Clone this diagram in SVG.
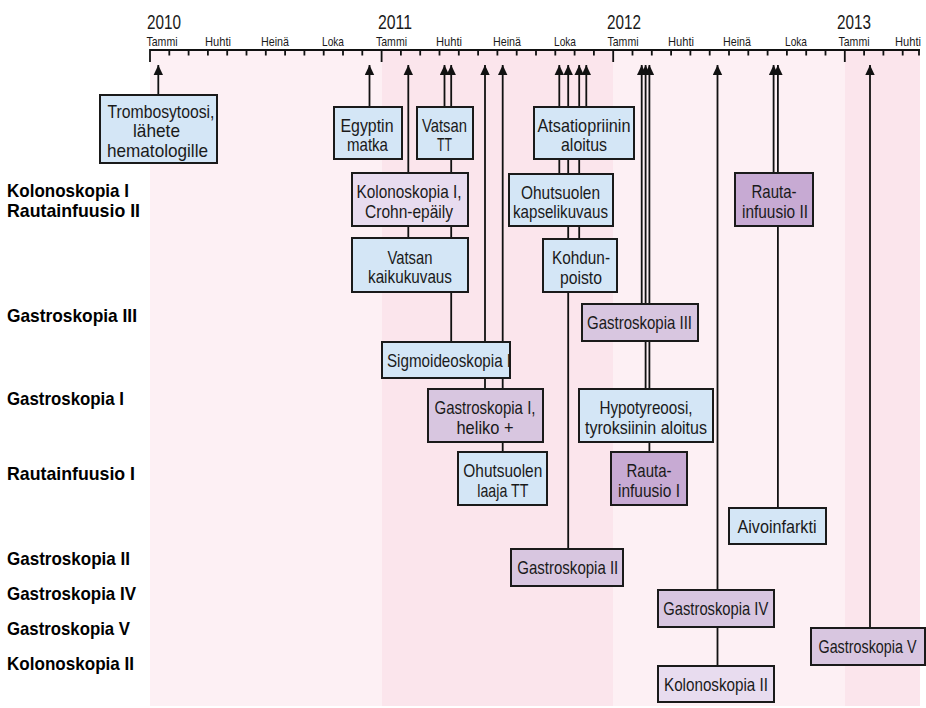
<svg xmlns="http://www.w3.org/2000/svg" width="926" height="708" viewBox="0 0 926 708">
<style>
.t{font-family:"Liberation Sans",Arial,sans-serif;fill:#1a1a1a}
.bx{font-size:18.5px;text-anchor:middle}
.mo{font-size:13.5px;text-anchor:middle}
.yr{font-size:21px}
.lb{font-size:19px;font-weight:bold;fill:#000}
.b{fill:#d4e6f6;stroke:#1a1a1a;stroke-width:2}
.l1{fill:#e8dcef;stroke:#1a1a1a;stroke-width:2}
.l2{fill:#d8c6e0;stroke:#1a1a1a;stroke-width:2}
.l3{fill:#c7aad3;stroke:#1a1a1a;stroke-width:2}
.c{stroke:#111;stroke-width:1.8;fill:none}
</style>
<defs>
<marker id="ah" viewBox="0 0 10 10" refX="10" refY="5" markerUnits="userSpaceOnUse" markerWidth="10" markerHeight="10" orient="auto">
<path d="M0,0.3 L10,5 L0,9.7 z" fill="#111"/>
</marker>
</defs>
<rect width="926" height="708" fill="#fff"/>
<g id="bands">
<rect x="150" y="50" width="232" height="656" fill="#fdf0f4"/>
<rect x="382" y="50" width="231" height="656" fill="#fbe5ec"/>
<rect x="613" y="50" width="232" height="656" fill="#fdf0f4"/>
<rect x="845" y="50" width="75" height="656" fill="#fbe5ec"/>
</g>
<g id="axis">
<path d="M150,50 H920" stroke="#111" stroke-width="2"/>
<path stroke="#111" stroke-width="1.8" d="M150,49 V62 M381.6,49 V62 M613.2,49 V62 M844.8,49 V62 M169.3,50 V55.5 M188.6,50 V55.5 M207.9,50 V55.5 M227.2,50 V55.5 M246.5,50 V55.5 M265.8,50 V55.5 M285.1,50 V55.5 M304.4,50 V55.5 M323.7,50 V55.5 M343,50 V55.5 M362.3,50 V55.5 M400.9,50 V55.5 M420.2,50 V55.5 M439.5,50 V55.5 M458.8,50 V55.5 M478.1,50 V55.5 M497.4,50 V55.5 M516.7,50 V55.5 M536,50 V55.5 M555.3,50 V55.5 M574.6,50 V55.5 M593.9,50 V55.5 M632.5,50 V55.5 M651.8,50 V55.5 M671.1,50 V55.5 M690.4,50 V55.5 M709.7,50 V55.5 M729,50 V55.5 M748.3,50 V55.5 M767.6,50 V55.5 M786.9,50 V55.5 M806.2,50 V55.5 M825.5,50 V55.5 M864.1,50 V55.5 M883.4,50 V55.5 M902.7,50 V55.5 M919,50 V55.5"/>
<text class="t yr" x="147" y="28.5" textLength="34" lengthAdjust="spacingAndGlyphs">2010</text>
<text class="t yr" x="378" y="28.5" textLength="34" lengthAdjust="spacingAndGlyphs">2011</text>
<text class="t yr" x="607" y="28.5" textLength="34" lengthAdjust="spacingAndGlyphs">2012</text>
<text class="t yr" x="837" y="28.5" textLength="34" lengthAdjust="spacingAndGlyphs">2013</text>
<text class="t mo" x="162" y="46" textLength="31" lengthAdjust="spacingAndGlyphs">Tammi</text>
<text class="t mo" x="218" y="46" textLength="26" lengthAdjust="spacingAndGlyphs">Huhti</text>
<text class="t mo" x="275" y="46" textLength="28" lengthAdjust="spacingAndGlyphs">Heinä</text>
<text class="t mo" x="333" y="46" textLength="22" lengthAdjust="spacingAndGlyphs">Loka</text>
<text class="t mo" x="391.5" y="46" textLength="31" lengthAdjust="spacingAndGlyphs">Tammi</text>
<text class="t mo" x="449" y="46" textLength="26" lengthAdjust="spacingAndGlyphs">Huhti</text>
<text class="t mo" x="507" y="46" textLength="28" lengthAdjust="spacingAndGlyphs">Heinä</text>
<text class="t mo" x="565" y="46" textLength="22" lengthAdjust="spacingAndGlyphs">Loka</text>
<text class="t mo" x="623" y="46" textLength="31" lengthAdjust="spacingAndGlyphs">Tammi</text>
<text class="t mo" x="681" y="46" textLength="26" lengthAdjust="spacingAndGlyphs">Huhti</text>
<text class="t mo" x="737" y="46" textLength="28" lengthAdjust="spacingAndGlyphs">Heinä</text>
<text class="t mo" x="796" y="46" textLength="22" lengthAdjust="spacingAndGlyphs">Loka</text>
<text class="t mo" x="854" y="46" textLength="31" lengthAdjust="spacingAndGlyphs">Tammi</text>
<text class="t mo" x="908" y="46" textLength="26" lengthAdjust="spacingAndGlyphs">Huhti</text>
</g>
<g id="row-labels">
<text class="t lb" x="7" y="197" textLength="122" lengthAdjust="spacingAndGlyphs">Kolonoskopia I</text>
<text class="t lb" x="7" y="217" textLength="133" lengthAdjust="spacingAndGlyphs">Rautainfuusio II</text>
<text class="t lb" x="7" y="322" textLength="130" lengthAdjust="spacingAndGlyphs">Gastroskopia III</text>
<text class="t lb" x="7" y="405" textLength="117" lengthAdjust="spacingAndGlyphs">Gastroskopia I</text>
<text class="t lb" x="7" y="480" textLength="128" lengthAdjust="spacingAndGlyphs">Rautainfuusio I</text>
<text class="t lb" x="7" y="565" textLength="123" lengthAdjust="spacingAndGlyphs">Gastroskopia II</text>
<text class="t lb" x="7" y="600" textLength="129" lengthAdjust="spacingAndGlyphs">Gastroskopia IV</text>
<text class="t lb" x="7" y="635" textLength="123" lengthAdjust="spacingAndGlyphs">Gastroskopia V</text>
<text class="t lb" x="7" y="670" textLength="127" lengthAdjust="spacingAndGlyphs">Kolonoskopia II</text>
</g>
<g id="connectors" class="c" marker-end="url(#ah)">
<path d="M158.3,95 V65"/>
<path d="M369.5,107 V65"/>
<path d="M408.3,238 V65"/>
<path d="M444.5,107 V65"/>
<path d="M451.2,342 V65"/>
<path d="M485,389 V65"/>
<path d="M502.7,452 V65"/>
<path d="M559.3,174 V65"/>
<path d="M568.2,549 V65"/>
<path d="M579.2,239 V65"/>
<path d="M586.3,107 V65"/>
<path d="M641.7,304 V65"/>
<path d="M645.6,389 V65"/>
<path d="M649.4,452 V65"/>
<path d="M717.5,666 V65"/>
<path d="M773.6,173 V65"/>
<path d="M777.9,508 V65"/>
<path d="M870,628 V65"/>
</g>
<g id="n-trombosytoosi"><rect class="b" x="100" y="95" width="117" height="68"/><text class="t bx" x="161" y="117.5" textLength="107" lengthAdjust="spacingAndGlyphs">Trombosytoosi,</text><text class="t bx" x="156.5" y="137" textLength="47" lengthAdjust="spacingAndGlyphs">lähete</text><text class="t bx" x="157.5" y="156.5" textLength="101" lengthAdjust="spacingAndGlyphs">hematologille</text></g>
<g id="n-egyptin"><rect class="b" x="334" y="107" width="68" height="52"/><text class="t bx" x="367" y="132" textLength="53" lengthAdjust="spacingAndGlyphs">Egyptin</text><text class="t bx" x="367.5" y="151" textLength="41" lengthAdjust="spacingAndGlyphs">matka</text></g>
<g id="n-vatsan-tt"><rect class="b" x="417" y="107" width="56" height="52"/><text class="t bx" x="444.5" y="132" textLength="45" lengthAdjust="spacingAndGlyphs">Vatsan</text><text class="t bx" x="444.5" y="151" textLength="15" lengthAdjust="spacingAndGlyphs">TT</text></g>
<g id="n-atsatiopriini"><rect class="b" x="534" y="107" width="100" height="52"/><text class="t bx" x="584" y="132" textLength="93" lengthAdjust="spacingAndGlyphs">Atsatiopriinin</text><text class="t bx" x="584" y="151" textLength="46" lengthAdjust="spacingAndGlyphs">aloitus</text></g>
<g id="n-kolonoskopia1"><rect class="l1" x="352" y="173" width="116" height="53"/><text class="t bx" x="409" y="198" textLength="105" lengthAdjust="spacingAndGlyphs">Kolonoskopia I,</text><text class="t bx" x="409" y="217.5" textLength="88" lengthAdjust="spacingAndGlyphs">Crohn-epäily</text></g>
<g id="n-kapselikuvaus"><rect class="b" x="509" y="174" width="104" height="52"/><text class="t bx" x="560.5" y="199" textLength="79" lengthAdjust="spacingAndGlyphs">Ohutsuolen</text><text class="t bx" x="560.5" y="218" textLength="95" lengthAdjust="spacingAndGlyphs">kapselikuvaus</text></g>
<g id="n-rautainfuusio2"><rect class="l3" x="735" y="173" width="78" height="53"/><text class="t bx" x="774" y="198" textLength="45" lengthAdjust="spacingAndGlyphs">Rauta-</text><text class="t bx" x="775" y="217.5" textLength="66" lengthAdjust="spacingAndGlyphs">infuusio II</text></g>
<g id="n-kaikukuvaus"><rect class="b" x="352" y="238" width="116" height="54"/><text class="t bx" x="410" y="263.5" textLength="45" lengthAdjust="spacingAndGlyphs">Vatsan</text><text class="t bx" x="410" y="283" textLength="84" lengthAdjust="spacingAndGlyphs">kaikukuvaus</text></g>
<g id="n-kohdunpoisto"><rect class="b" x="543" y="239" width="74" height="53"/><text class="t bx" x="581" y="264" textLength="58" lengthAdjust="spacingAndGlyphs">Kohdun-</text><text class="t bx" x="581" y="283.5" textLength="42" lengthAdjust="spacingAndGlyphs">poisto</text></g>
<g id="n-gastroskopia3"><rect class="l2" x="582" y="304" width="116" height="37"/><text class="t bx" x="639.5" y="328.5" textLength="105" lengthAdjust="spacingAndGlyphs">Gastroskopia III</text></g>
<g id="n-sigmoideoskopia"><rect class="b" x="382" y="342" width="128" height="36"/><text class="t bx" x="387" y="366.5" style="text-anchor:start" textLength="124" lengthAdjust="spacingAndGlyphs">Sigmoideoskopia I</text></g>
<g id="n-gastroskopia1"><rect class="l2" x="428" y="389" width="115" height="53"/><text class="t bx" x="485" y="414" textLength="101" lengthAdjust="spacingAndGlyphs">Gastroskopia I,</text><text class="t bx" x="485" y="433.5" textLength="57" lengthAdjust="spacingAndGlyphs">heliko +</text></g>
<g id="n-hypotyreoosi"><rect class="b" x="579" y="389" width="134" height="53"/><text class="t bx" x="646" y="414" textLength="93" lengthAdjust="spacingAndGlyphs">Hypotyreoosi,</text><text class="t bx" x="646" y="433.5" textLength="122" lengthAdjust="spacingAndGlyphs">tyroksiinin aloitus</text></g>
<g id="n-laaja-tt"><rect class="b" x="458" y="452" width="89" height="53"/><text class="t bx" x="502.8" y="477" textLength="79" lengthAdjust="spacingAndGlyphs">Ohutsuolen</text><text class="t bx" x="502.8" y="496.5" textLength="51" lengthAdjust="spacingAndGlyphs">laaja TT</text></g>
<g id="n-rautainfuusio1"><rect class="l3" x="611" y="452" width="76" height="53"/><text class="t bx" x="649" y="477" textLength="45" lengthAdjust="spacingAndGlyphs">Rauta-</text><text class="t bx" x="649" y="496.5" textLength="62" lengthAdjust="spacingAndGlyphs">infuusio I</text></g>
<g id="n-aivoinfarkti"><rect class="b" x="729" y="508" width="97" height="36"/><text class="t bx" x="777" y="532.5" textLength="79" lengthAdjust="spacingAndGlyphs">Aivoinfarkti</text></g>
<g id="n-gastroskopia2"><rect class="l2" x="511" y="549" width="112" height="37"/><text class="t bx" x="567.8" y="573.5" textLength="101" lengthAdjust="spacingAndGlyphs">Gastroskopia II</text></g>
<g id="n-gastroskopia4"><rect class="l2" x="658" y="590" width="116" height="37"/><text class="t bx" x="715.8" y="614.5" textLength="105" lengthAdjust="spacingAndGlyphs">Gastroskopia IV</text></g>
<g id="n-gastroskopia5"><rect class="l2" x="811" y="628" width="114" height="37"/><text class="t bx" x="867.5" y="652.5" textLength="98" lengthAdjust="spacingAndGlyphs">Gastroskopia V</text></g>
<g id="n-kolonoskopia2"><rect class="l1" x="658" y="666" width="116" height="36"/><text class="t bx" x="716" y="690.5" textLength="104" lengthAdjust="spacingAndGlyphs">Kolonoskopia II</text></g>
</svg>
